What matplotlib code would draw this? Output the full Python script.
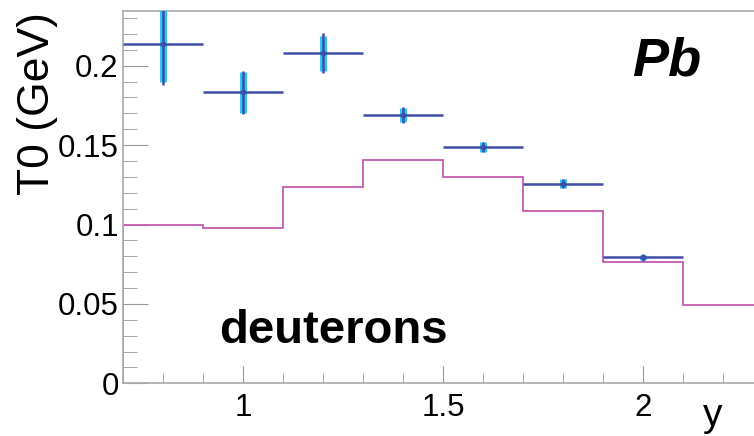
import numpy as np
import matplotlib.pyplot as plt
from matplotlib.ticker import MultipleLocator

plt.rcParams['font.family'] = ['Liberation Sans', 'DejaVu Sans']

# data points (rapidity y, T0)
y_pts = [0.8, 1.0, 1.2, 1.4, 1.6, 1.8, 2.0]
t0 = [0.2135, 0.1832, 0.2078, 0.1688, 0.1488, 0.1257, 0.0793]
x_err = [0.1, 0.1, 0.1, 0.1, 0.1, 0.1, 0.1]
stat_err = [0.0255, 0.0135, 0.0125, 0.0050, 0.0032, 0.0030, 0.0020]
syst_err = [0.0235, 0.0130, 0.0110, 0.0045, 0.0030, 0.0030, 0.0018]

# model histogram
bin_edges = [0.7, 0.9, 1.1, 1.3, 1.5, 1.7, 1.9, 2.1, 2.3]
model = [0.0999, 0.0978, 0.1238, 0.1406, 0.1301, 0.1085, 0.0762, 0.0495]

fig = plt.figure(figsize=(7.54, 4.36), dpi=100)
ax = fig.add_axes([0.1631, 0.1209, 0.8488, 0.854])

ax.stairs(model, bin_edges, color='#c55bb0', lw=1.3, zorder=2)

# systematic errors (thick light blue)
ax.errorbar(y_pts, t0, yerr=syst_err, fmt='none', ecolor='#2ec4f5', elinewidth=5, capsize=0, zorder=3)
# statistical errors + x widths (thin dark blue)
ax.errorbar(y_pts, t0, xerr=x_err, yerr=stat_err, fmt='o', ms=3, color='#3f4fa8',
            ecolor='#3f4fa8', elinewidth=1.8, capsize=0, zorder=4)

ax.set_xlim(0.7, 2.3)
ax.set_ylim(0, 0.2345)

ax.xaxis.set_minor_locator(MultipleLocator(0.1))
ax.yaxis.set_minor_locator(MultipleLocator(0.01))
ax.set_xticks([1, 1.5, 2])
ax.set_xticklabels(['1', '1.5', '2'])
ax.set_yticks([0, 0.05, 0.1, 0.15, 0.2])
ax.set_yticklabels(['0', '0.05', '0.1', '0.15', '0.2'])

ax.tick_params(which='both', direction='in', color='#999999', labelsize=22.5)
ax.tick_params(axis='y', which='major', length=18, pad=3)
ax.tick_params(axis='y', which='minor', length=10)
ax.tick_params(axis='x', which='major', length=12, pad=7)
ax.tick_params(axis='x', which='minor', length=7)

for s in ['left', 'bottom', 'top', 'right']:
    ax.spines[s].set_color('#aaaaaa')
    ax.spines[s].set_linewidth(1.2)

fig.text(0.05, 0.762, 'T0 (GeV)', rotation=90, fontsize=32, ha='center', va='center')
fig.text(0.945, 0.022, 'y', fontsize=28, ha='center', va='baseline')

ax.text(2.06, 0.2025, 'Pb', fontsize=39, fontweight='bold', fontstyle='italic', ha='center', va='center')
ax.text(1.225, 0.0255, 'deuterons', fontsize=34, fontweight='bold', ha='center', va='baseline')

fig.savefig('out.png', dpi=100)
